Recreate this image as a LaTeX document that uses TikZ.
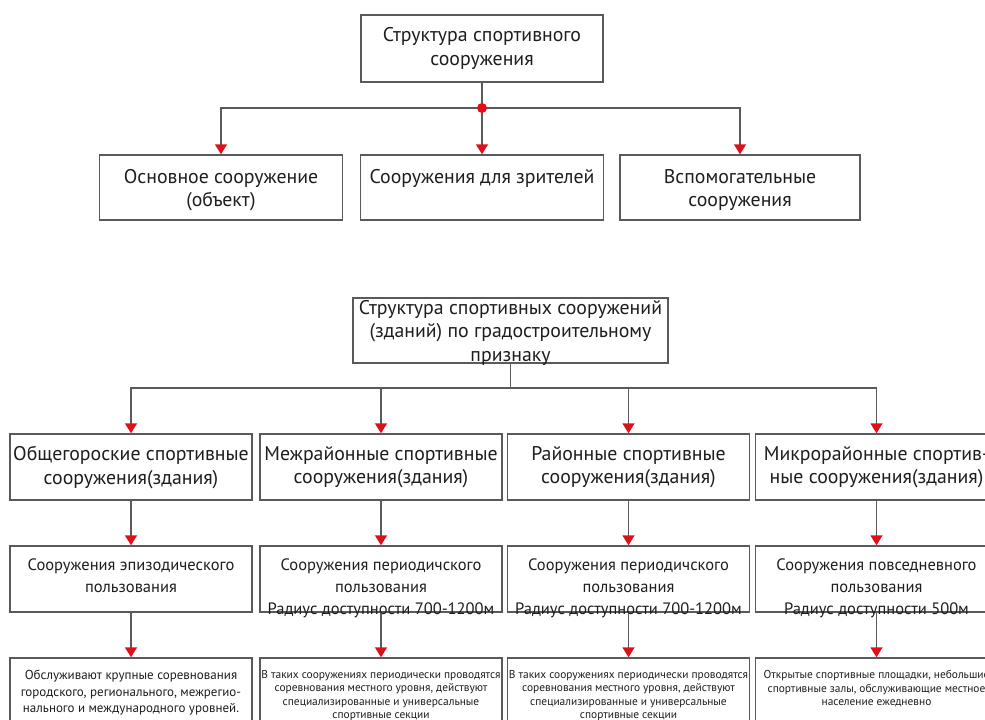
\documentclass[tikz,border=0pt]{standalone}
\usepackage{fontspec}
\setmainfont{PT Sans}
\usetikzlibrary{arrows.meta}
\definecolor{linegray}{HTML}{5A5A5A}
\definecolor{tipred}{HTML}{E0101A}
\definecolor{inkgray}{HTML}{1E1E1E}

\begin{document}
\begin{tikzpicture}[x=1pt,y=-1pt,
    box/.style={draw=linegray, line width=1.4pt, minimum width=242, minimum height=66, inner sep=0},
    txt/.style={text=inkgray, align=center, inner sep=0, anchor=north},
    arr/.style={draw=linegray, line width=1.4pt, -{Triangle[color=tipred,width=12pt,length=10pt]}},
    fbig/.style={font=\fontsize{19.8}{23.2}\selectfont},
    fmid/.style={font=\fontsize{16.5}{22}\selectfont},
    fsmall/.style={font=\fontsize{13}{16.5}\selectfont},
    ftiny/.style={font=\fontsize{11.4}{13.4}\selectfont}]
    \clip (0,0) rectangle (985,720);
    \fill[white] (0,0) rectangle (985,720);

    % first scheme
    \node[box, minimum height=67] (top) at (482,48.5) {};
    \node[txt, fbig, anchor=center] (topT) at (top.center) {Структура спортивного\\сооружения};
    \node[box, minimum width=243, minimum height=65] (obj) at (221,187.5) {};
    \node[box, minimum width=243, minimum height=65] (view) at (482,187.5) {};
    \node[box, minimum width=240, minimum height=65] (aux) at (740,187.5) {};
    \node[txt, fbig, yshift=-15] (objT) at (obj.north) {Основное сооружение\\(объект)};
    \node[txt, fbig, yshift=-15] (viewT) at (view.north) {Сооружения для зрителей};
    \node[txt, fbig, yshift=-15] (auxT) at (aux.north) {Вспомогательные\\сооружения};

    \coordinate (jn1) at (482,108);
    \draw[draw=linegray, line width=1.4pt] (top) -- (jn1);
    \draw[arr] (jn1) -| (obj);
    \draw[arr] (jn1) -- (view);
    \draw[arr] (jn1) -| (aux);
    \fill[tipred] (jn1) circle (5);

    % second scheme
    \node[box, minimum width=315, minimum height=65] (head) at (510.5,330.5) {};
    \node[txt, fbig, yshift=-3] (headT) at (head.north) {Структура спортивных сооружений\\(зданий) по градостроительному\\признаку};

    \node[box] (r1c1) at (131,467) {};
    \node[box] (r1c2) at (381,467) {};
    \node[box] (r1c3) at (628.5,467) {};
    \node[box] (r1c4) at (876.5,467) {};
    \node[txt, fbig, yshift=-13] at (r1c1.north) {Общегороские спортивные\\сооружения(здания)};
    \node[txt, fbig, yshift=-13] at (r1c2.north) {Межрайонные спортивные\\сооружения(здания)};
    \node[txt, fbig, yshift=-13] at (r1c3.north) {Районные спортивные\\сооружения(здания)};
    \node[txt, fbig, yshift=-13] at (r1c4.north) {Микрорайонные спортив-\\ные сооружения(здания)};

    \node[box] (r2c1) at (131,579) {};
    \node[box] (r2c2) at (381,579) {};
    \node[box] (r2c3) at (628.5,579) {};
    \node[box] (r2c4) at (876.5,579) {};
    \node[txt, fmid, yshift=-13] at (r2c1.north) {Сооружения эпизодического\\пользования};
    \node[txt, fmid, yshift=-13] at (r2c2.north) {Сооружения периодичского\\пользования\\Радиус доступности 700-1200м};
    \node[txt, fmid, yshift=-13] at (r2c3.north) {Сооружения периодичского\\пользования\\Радиус доступности 700-1200м};
    \node[txt, fmid, yshift=-13] at (r2c4.north) {Сооружения повседневного\\пользования\\Радиус доступности 500м};

    \node[box, minimum height=84] (r3c1) at (131,700) {};
    \node[box, minimum height=84] (r3c2) at (381,700) {};
    \node[box, minimum height=84] (r3c3) at (628.5,700) {};
    \node[box, minimum height=84] (r3c4) at (876.5,700) {};
    \node[txt, fsmall, yshift=-13] at (r3c1.north) {Обслуживают крупные соревнования\\городского, регионального, межрегио-\\нального и международного уровней.};
    \node[txt, ftiny, yshift=-13] at (r3c2.north) {В таких сооружениях периодически проводятся\\соревнования местного уровня, действуют\\специализированные и универсальные\\спортивные секции};
    \node[txt, ftiny, yshift=-13] at (r3c3.north) {В таких сооружениях периодически проводятся\\соревнования местного уровня, действуют\\специализированные и универсальные\\спортивные секции};
    \node[txt, ftiny, yshift=-13] at (r3c4.north) {Открытые спортивные площадки, небольшие\\спортивные залы, обслуживающие местное\\население ежедневно};

    \coordinate (jn2) at (510.5,388);
    \draw[draw=linegray, line width=1.4pt] (head) -- (jn2);
    \foreach \c in {1,...,4} {
        \draw[arr] (jn2) -| (r1c\c);
        \draw[arr] (r1c\c) -- (r2c\c);
        \draw[arr] (r2c\c) -- (r3c\c);
    }
\end{tikzpicture}
\end{document}
